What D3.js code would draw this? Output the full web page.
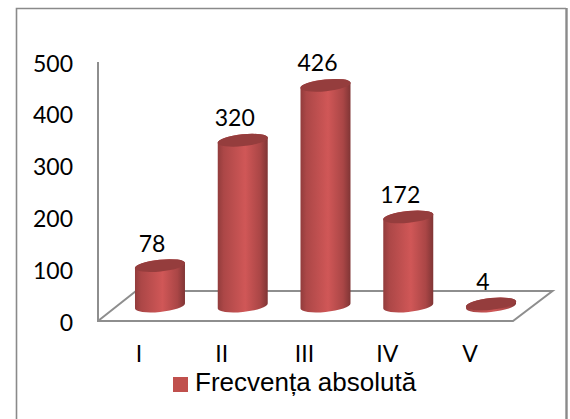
<!DOCTYPE html>
<html><head><meta charset="utf-8">
<script src="https://cdn.jsdelivr.net/npm/d3@7/dist/d3.min.js"></script>
<style>html,body{margin:0;padding:0;background:#fff;overflow:hidden}svg{display:block}</style>
</head><body><svg id="c" width="570" height="419"></svg>
<script>
const categories = ["I","II","III","IV","V"];
const values = [78,320,426,172,4];
const yTicks = [0,100,200,300,400,500];
const seriesName = "Frecvența absolută";

const svg = d3.select("#c");
const labelFont = "Lato, 'Open Sans', sans-serif";
const grey = "#8e8e8e";
const y = d3.scaleLinear().domain([0,500]).range([321,62]);
const x = d3.scaleBand().domain(categories).range([118.6,532.4]).paddingInner(0.396).paddingOuter(0.198);

const defs = svg.append("defs");
const grad = defs.append("linearGradient").attr("id","cyl").attr("x1",0).attr("x2",1).attr("y1",0).attr("y2",0);
[[0,"#923c3c"],[0.12,"#ac4747"],[0.55,"#d05757"],[0.85,"#aa4646"],[1,"#803535"]]
  .forEach(([o,c])=>grad.append("stop").attr("offset",o).attr("stop-color",c));

// Frame (open at the bottom, cropped by the page)
svg.append("path").attr("d","M16.5,419V8.5H566").attr("fill","none").attr("stroke","#8a8a8a").attr("stroke-width",1.6);
svg.append("line").attr("x1",566.5).attr("x2",566.5).attr("y1",8).attr("y2",419).attr("stroke","#8a8a8a").attr("stroke-width",2.4);

// Floor and wall
const depthX = 38, depthY = 30, base = y(0);
const right = 513;
svg.append("path").attr("fill","none").attr("stroke",grey).attr("stroke-width",2)
  .attr("d",`M${x.range()[0]-20.6},${y(500)}V${base}H${right}L${right+depthX+1.5},${base-depthY}H${x.range()[0]-20.6+depthX}L${x.range()[0]-20.6},${base}`);

// Y axis
const yAxis = svg.append("g").attr("transform","translate(98,0)")
  .call(d3.axisLeft(y).tickValues(yTicks).tickSize(0).tickPadding(25));
yAxis.select(".domain").remove();
yAxis.selectAll("text").attr("dy",9).attr("fill","#000").attr("font-family",labelFont).attr("font-size",23);

// X axis
const xAxis = svg.append("g").attr("transform","translate(-21,340)")
  .call(d3.axisBottom(x).tickSize(0).tickPadding(0));
xAxis.select(".domain").remove();
xAxis.selectAll("text").attr("dy",22).attr("fill","#000").attr("font-family",labelFont).attr("font-size",23);

// Cylinders
const rx = x.bandwidth()/2, ry = 5.9, tilt = -6, d = 2.5, lift = 15;
const bars = svg.append("g").selectAll("g").data(categories.map((c,i)=>({c,v:values[i]}))).join("g");
bars.append("path").attr("fill","url(#cyl)").attr("d",o=>{
  const cx = x(o.c)+rx, t = y(o.v)-lift, b = y(0)-lift;
  return `M${cx-rx},${t+d}L${cx-rx},${b+d}A${rx},${ry} ${tilt} 0 0 ${cx+rx},${b-d}L${cx+rx},${t-d}A${rx},${ry} ${tilt} 0 0 ${cx-rx},${t+d}Z`;
});
bars.append("ellipse").attr("fill","#953d3d")
  .attr("rx",rx+0.3).attr("ry",ry)
  .attr("transform",o=>`translate(${x(o.c)+rx},${y(o.v)-lift}) rotate(${tilt})`);

// Data labels
bars.append("text").text(o=>o.v).attr("text-anchor","middle")
  .attr("x",o=>x(o.c)+rx-8).attr("y",o=>y(o.v)-lift-14)
  .attr("fill","#000").attr("font-family",labelFont).attr("font-size",23);

// Legend
svg.append("rect").attr("x",173).attr("y",377).attr("width",15).attr("height",15).attr("fill","#c0504d");
svg.append("text").text(seriesName).attr("x",195).attr("y",391)
  .attr("fill","#000").attr("font-family","'Liberation Sans', Arial, sans-serif").attr("font-size",26);
</script></body></html>
